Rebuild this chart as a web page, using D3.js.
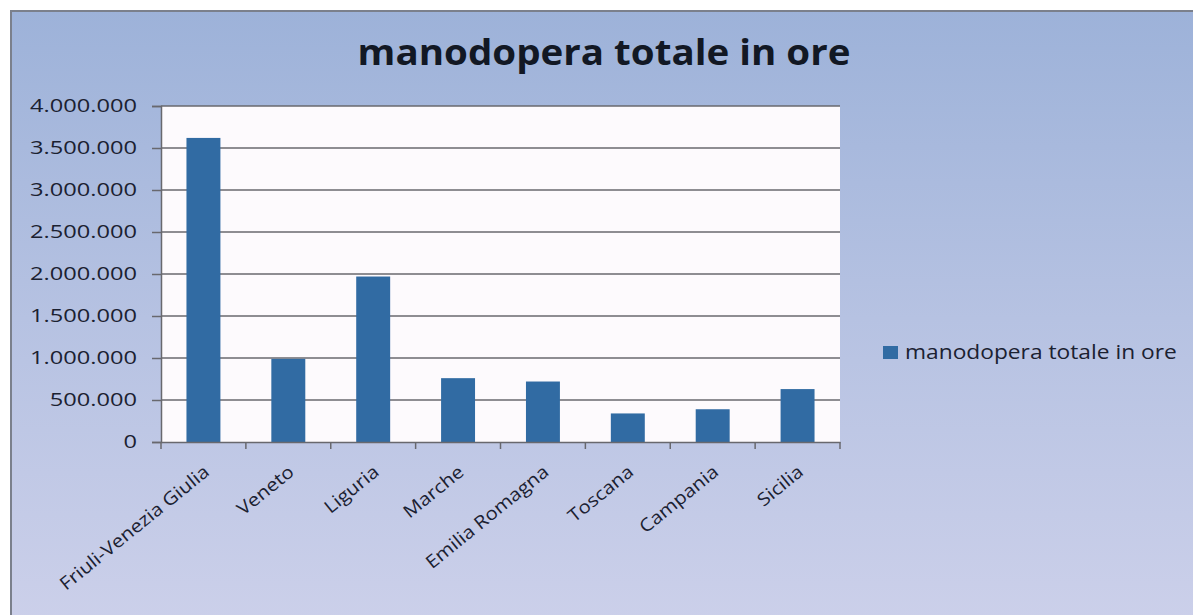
<!DOCTYPE html>
<html><head><meta charset="utf-8">
<script src="https://cdn.jsdelivr.net/npm/d3@7"></script>
<style>html,body{margin:0;padding:0;background:#fff;overflow:hidden}</style>
</head><body>
<svg id="c" width="1193" height="615"></svg>
<script>
const title = "manodopera totale in ore";
const seriesName = "manodopera totale in ore";
const categories = ["Friuli-Venezia Giulia","Veneto","Liguria","Marche","Emilia Romagna","Toscana","Campania","Sicilia"];
const values = [3620000, 990000, 1970000, 760000, 720000, 340000, 390000, 630000];
const yTicks = [0,500000,1000000,1500000,2000000,2500000,3000000,3500000,4000000];
const yTickLabels = ["0","500.000","1.000.000","1.500.000","2.000.000","2.500.000","3.000.000","3.500.000","4.000.000"];

const FONT = "'Open Sans', sans-serif";
const TXT = "#1b2131";
const svg = d3.select("#c");
const defs = svg.append("defs");
const g1 = defs.append("linearGradient").attr("id","bg").attr("x1",0).attr("y1",0).attr("x2",0).attr("y2",1);
g1.append("stop").attr("offset","0%").attr("stop-color","#9db2d9");
g1.append("stop").attr("offset","50%").attr("stop-color","#b6c2e2");
g1.append("stop").attr("offset","100%").attr("stop-color","#ccd0ea");

svg.append("rect").attr("x",11).attr("y",11).attr("width",1193).attr("height",615)
  .attr("fill","url(#bg)").attr("stroke","#7b808c").attr("stroke-width",2);

const m = {left:161, right:840, top:106, bottom:442};
const x = d3.scaleBand().domain(categories).range([m.left, m.right]).paddingInner(0.6).paddingOuter(0.3);
const y = d3.scaleLinear().domain([0,4000000]).range([m.bottom, m.top]);

svg.append("rect").attr("x",m.left).attr("y",m.top).attr("width",m.right-m.left).attr("height",m.bottom-m.top)
  .attr("fill","#fdfafd");

// gridlines
svg.append("g").selectAll("line").data(yTicks.slice(1)).join("line")
  .attr("x1",m.left).attr("x2",m.right).attr("y1",d=>y(d)).attr("y2",d=>y(d))
  .attr("stroke","#68686e").attr("stroke-width",1.5);

// y axis
const yAxis = d3.axisLeft(y).tickValues(yTicks).tickSize(9).tickPadding(15)
  .tickFormat((d,i)=>yTickLabels[i]);
const ya = svg.append("g").attr("transform",`translate(${m.left},0)`).call(yAxis);
ya.select(".domain").attr("stroke","#68686e").attr("stroke-width",1.5);
ya.selectAll(".tick line").attr("stroke","#68686e").attr("stroke-width",1.5);
ya.selectAll("text").attr("fill",TXT).style("font-family",FONT).style("font-size","18.5px");
let maxW = 0;
ya.selectAll("text").each(function(){ maxW = Math.max(maxW, this.getComputedTextLength()); });
const ky = 107 / maxW;
ya.selectAll("text").each(function(){
  const t = d3.select(this); const tx = +t.attr("x");
  t.attr("x",0).attr("transform",`translate(${tx},0) scale(${ky},1)`);
});

// bars
svg.append("g").selectAll("rect").data(values).join("rect")
  .attr("x",(d,i)=>x(categories[i])).attr("width",x.bandwidth())
  .attr("y",d=>y(d)).attr("height",d=>y(0)-y(d)).attr("fill","#316ba3");

// x axis
const step = (m.right-m.left)/categories.length;
const xa = svg.append("g").attr("transform",`translate(0,${m.bottom})`).call(
  d3.axisBottom(x).tickSize(0).tickFormat(""));
xa.select(".domain").attr("stroke","#68686e").attr("stroke-width",1.5);
const bounds = d3.range(categories.length+1).map(i=>m.left+i*step);
svg.append("g").selectAll("line").data(bounds).join("line")
  .attr("x1",d=>d).attr("x2",d=>d).attr("y1",m.bottom).attr("y2",m.bottom+7)
  .attr("stroke","#68686e").attr("stroke-width",1.5);
svg.append("g").selectAll("text").data(categories).join("text")
  .attr("transform",d=>`translate(${x(d)+x.bandwidth()/2+7},${m.bottom+32}) rotate(-39) scale(1.13,1)`)
  .attr("text-anchor","end").attr("fill",TXT)
  .style("font-family",FONT).style("font-size","18px").text(d=>d);

// title
const tt = svg.append("text").attr("text-anchor","middle")
  .attr("fill","#121824").style("font-family",FONT).style("font-weight","bold")
  .style("font-size","36px").text(title);
const tw = tt.node().getComputedTextLength();
tt.attr("transform",`translate(604,65) scale(${493/tw},1)`);

// legend
svg.append("rect").attr("x",883).attr("y",346).attr("width",15).attr("height",13).attr("fill","#316ba3");
const lt = svg.append("text").attr("fill",TXT)
  .style("font-family",FONT).style("font-size","20px").text(seriesName);
const lw = lt.node().getComputedTextLength();
lt.attr("transform",`translate(905,359) scale(${272/lw},1)`);
</script>
</body></html>
